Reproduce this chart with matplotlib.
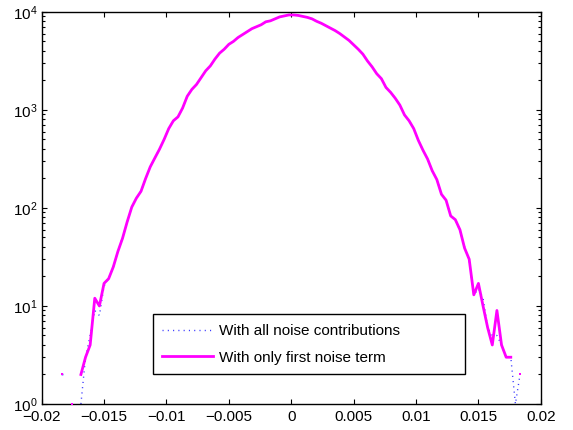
import numpy as np
import matplotlib
matplotlib.use('Agg')
import matplotlib.pyplot as plt
from matplotlib.ticker import LogLocator, FixedLocator, FixedFormatter

plt.rcParams['font.family'] = ['Liberation Sans', 'DejaVu Sans']
plt.rcParams['mathtext.default'] = 'regular'

# histogram bins: 100 bins between these centres
bin_first = -0.01834
bin_last = 0.01834
n_bins = 100

# counts per bin (0 = empty bin, not drawn on log axis)
only_first = [
    2, 0, 1, 0, 2, 3, 4, 12, 10, 17,
    19, 25, 36, 49, 72, 102, 126, 148, 200, 263,
    324, 398, 501, 646, 776, 851, 1047, 1380, 1622, 1820,
    2138, 2512, 2818, 3311, 3802, 4169, 4677, 5012, 5495, 5888,
    6310, 6761, 7079, 7413, 7943, 8128, 8511, 8913, 9120, 9333,
    9333, 9226, 9016, 8810, 8511, 8035, 7674, 7244, 6839, 6457,
    6026, 5559, 5129, 4624, 4169, 3715, 3162, 2754, 2344, 2089,
    1698, 1514, 1318, 1122, 891, 776, 646, 490, 389, 316,
    240, 195, 138, 120, 83, 76, 60, 39, 30, 13,
    17, 10, 6, 4, 9, 4, 3, 3, 0, 2,
]
all_noise = [
    2, 0, 0, 0, 1, 3, 5, 9, 8, 16,
    19, 25, 36, 50, 71, 103, 125, 149, 199, 264,
    323, 399, 500, 647, 775, 852, 1046, 1381, 1621, 1821,
    2137, 2513, 2817, 3312, 3801, 4170, 4676, 5013, 5494, 5889,
    6309, 6762, 7078, 7414, 7942, 8129, 8510, 8914, 9119, 9334,
    9332, 9227, 9015, 8811, 8510, 8036, 7673, 7245, 6838, 6458,
    6025, 5560, 5128, 4625, 4168, 3716, 3161, 2755, 2343, 2090,
    1697, 1515, 1317, 1123, 890, 777, 645, 491, 388, 317,
    239, 196, 137, 121, 82, 77, 59, 40, 29, 13,
    15, 12, 6, 5, 5, 4, 3, 3, 1, 2,
]

x_ticks = [-0.02, -0.015, -0.01, -0.005, 0, 0.005, 0.01, 0.015, 0.02]
x_tick_labels = ['\u22120.02', '\u22120.015', '\u22120.01', '\u22120.005', '0',
                 '0.005', '0.01', '0.015', '0.02']
labels = ['With all noise contributions', 'With only first noise term']

centres = np.linspace(bin_first, bin_last, n_bins)


def masked(vals):
    v = np.array(vals, dtype=float)
    v[v <= 0] = np.nan
    return v


def isolated(vals):
    v = np.array(vals, dtype=float)
    left = np.r_[0, v[:-1]]
    right = np.r_[v[1:], 0]
    return (v > 0) & (left <= 0) & (right <= 0)


fig = plt.figure(figsize=(5.73, 4.3), dpi=100)
ax = fig.add_axes([0.0728, 0.0605, 0.8709, 0.9116])

blue = masked(all_noise)
mag = masked(only_first)
ax.plot(centres, blue, color='#3a3aff', lw=1.0, linestyle=(0, (0.8, 3.0)),
        label=labels[0])
ax.plot(centres, mag, '-', color='#ff00ff', lw=2.0, label=labels[1])
iso_b = isolated(all_noise)
iso_m = isolated(only_first)
ax.plot(centres[iso_b], blue[iso_b], 's', color='#3a3aff', ms=1.3, mew=0,
        clip_on=False)
ax.plot(centres[iso_m], mag[iso_m], 's', color='#ff00ff', ms=1.7, mew=0,
        clip_on=False, zorder=3)

ax.set_yscale('log')
ax.set_xlim(-0.02, 0.02)
ax.set_ylim(1, 1e4)
ax.xaxis.set_major_locator(FixedLocator(x_ticks))
ax.xaxis.set_major_formatter(FixedFormatter(x_tick_labels))
ax.yaxis.set_major_locator(LogLocator(base=10, numticks=10))
ax.yaxis.set_minor_locator(LogLocator(base=10, subs=np.arange(2, 10), numticks=10))

ax.tick_params(which='both', direction='in', top=True, right=True,
               labelsize=11, colors='black', width=0.8)
ax.tick_params(which='major', length=3.6)
ax.tick_params(axis='x', which='major', pad=4)
ax.tick_params(axis='y', which='major', pad=3)
ax.tick_params(which='minor', length=2.0)
for s in ax.spines.values():
    s.set_linewidth(1.0)
    s.set_color('black')

leg = ax.legend(loc='lower left', bbox_to_anchor=(0.2665, 0.1295, 0.5447, 0.15),
                bbox_transform=fig.transFigure, mode='expand', borderaxespad=0,
                fontsize=11, handlelength=3.3, handletextpad=0.4,
                labelspacing=0.85, borderpad=0.62,
                fancybox=False, framealpha=1, edgecolor='black')
leg.get_frame().set_linewidth(1.0)

fig.savefig('out.png', dpi=100)
